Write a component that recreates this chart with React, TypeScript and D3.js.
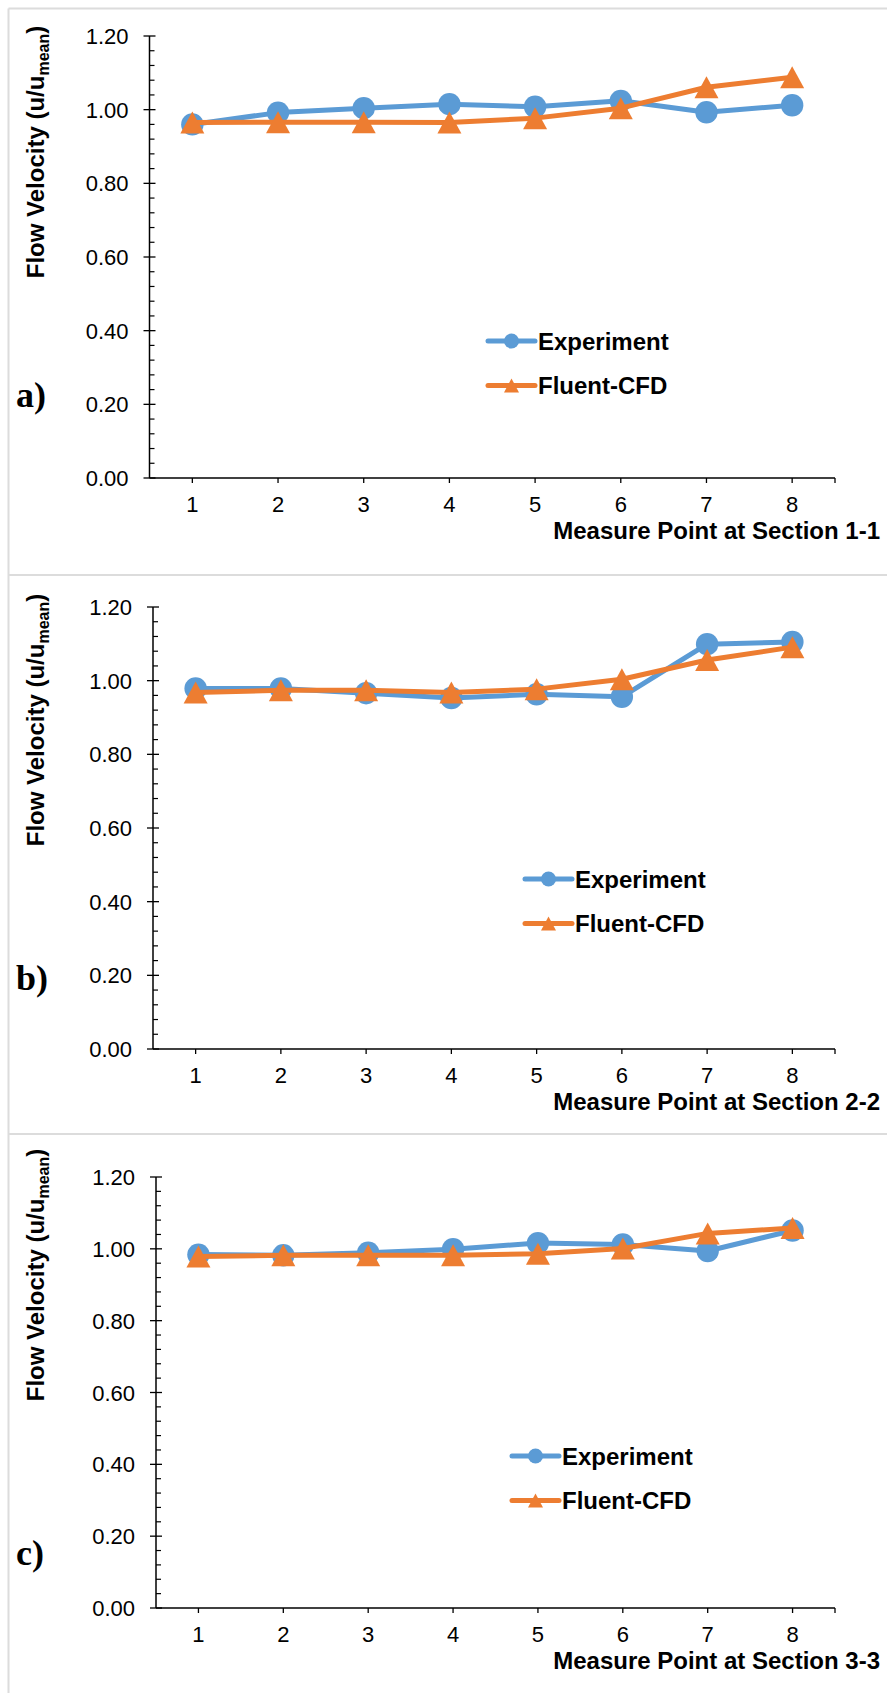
import React from 'react';
import * as d3 from 'd3';

// measure points along each section
const measurePoints = [1, 2, 3, 4, 5, 6, 7, 8];
const yTickValues = [0, 0.2, 0.4, 0.6, 0.8, 1.0, 1.2];
const sectionNames = ['1-1', '2-2', '3-3'];
const panelLetters = ['a)', 'b)', 'c)'];
const seriesNames = ['Experiment', 'Fluent-CFD'];

// u/u_mean
const experimentA = [0.960, 0.992, 1.004, 1.015, 1.008, 1.024, 0.993, 1.012];
const cfdA = [0.965, 0.966, 0.966, 0.965, 0.977, 1.004, 1.061, 1.088];

const experimentB = [0.979, 0.979, 0.966, 0.953, 0.963, 0.956, 1.099, 1.105];
const cfdB = [0.968, 0.974, 0.974, 0.968, 0.977, 1.004, 1.056, 1.091];

const experimentC = [0.984, 0.982, 0.989, 0.999, 1.016, 1.012, 0.994, 1.051];
const cfdC = [0.979, 0.982, 0.982, 0.982, 0.986, 1.001, 1.043, 1.058];

const BLUE = '#5B9BD5';
const ORANGE = '#ED7D31';
const SANS = '"Liberation Sans", Arial, sans-serif';

const W = 887;
const H = 1693;

// where each panel sits on the page
const layout = [
  { x0: 149.5, x1: 835, yBottom: 478, yTop: 36, legendX: 488, legendY: 341, titleY: 152, letterY: 407 },
  { x0: 153, x1: 835, yBottom: 1049, yTop: 607, legendX: 525, legendY: 879, titleY: 720, letterY: 990 },
  { x0: 156, x1: 835, yBottom: 1608, yTop: 1177, legendX: 512, legendY: 1456, titleY: 1275, letterY: 1565 },
];

const seriesData = [
  [experimentA, cfdA],
  [experimentB, cfdB],
  [experimentC, cfdC],
];

const triangle = (w: number, h: number) => `M0,${-h / 2}L${w / 2},${h / 2}L${-w / 2},${h / 2}Z`;

const Panel = ({ idx }: { idx: number }) => {
  const L = layout[idx];
  const [exp, cfd] = seriesData[idx];

  const x = d3.scalePoint<number>().domain(measurePoints).range([L.x0, L.x1]).padding(0.5);
  const y = d3.scaleLinear().domain([0, 1.2]).range([L.yBottom, L.yTop]);
  const minorTicks = d3.range(0, 1.2001, 0.04).filter(v => Math.abs(Math.round(v / 0.2) * 0.2 - v) > 1e-6);

  const line = d3.line<number>()
    .x((_, i) => x(measurePoints[i]) as number)
    .y(d => y(d));

  const fmt = d3.format('.2f');

  return (
    <g>
      {/* series */}
      <path d={line(exp) || ''} fill="none" stroke={BLUE} strokeWidth={5} strokeLinejoin="round" />
      {exp.map((v, i) => (
        <circle key={'e' + i} cx={x(measurePoints[i])} cy={y(v)} r={11.2} fill={BLUE} />
      ))}
      <path d={line(cfd) || ''} fill="none" stroke={ORANGE} strokeWidth={5} strokeLinejoin="round" />
      {cfd.map((v, i) => (
        <path key={'c' + i} d={triangle(24, 22)} transform={`translate(${x(measurePoints[i])},${y(v)})`} fill={ORANGE} />
      ))}

      {/* y axis */}
      <line x1={L.x0} x2={L.x0} y1={y(1.2)} y2={y(0)} stroke="#000" strokeWidth={1.5} />
      {yTickValues.map(v => (
        <g key={'yt' + v}>
          <line x1={L.x0 - 6} x2={L.x0 + 6} y1={y(v)} y2={y(v)} stroke="#000" strokeWidth={1.3} />
          <text x={L.x0 - 21} y={y(v) + 8} textAnchor="end" fontFamily={SANS} fontSize={22} fill="#000">{fmt(v)}</text>
        </g>
      ))}
      {minorTicks.map(v => (
        <line key={'ym' + v} x1={L.x0} x2={L.x0 + 5} y1={y(v)} y2={y(v)} stroke="#000" strokeWidth={1.2} />
      ))}

      {/* x axis */}
      <line x1={L.x0} x2={L.x1} y1={L.yBottom} y2={L.yBottom} stroke="#000" strokeWidth={1.5} />
      {measurePoints.map(p => (
        <g key={'xt' + p}>
          <line x1={x(p)} x2={x(p)} y1={L.yBottom} y2={L.yBottom + 5} stroke="#000" strokeWidth={1.3} />
          <text x={x(p)} y={L.yBottom + 34} textAnchor="middle" fontFamily={SANS} fontSize={22} fill="#000">{p}</text>
        </g>
      ))}
      <line x1={L.x1} x2={L.x1} y1={L.yBottom} y2={L.yBottom + 5} stroke="#000" strokeWidth={1.3} />

      <text x={880} y={L.yBottom + 61} textAnchor="end" fontFamily={SANS} fontWeight="bold" fontSize={24} fill="#000">
        {`Measure Point at Section ${sectionNames[idx]}`}
      </text>

      <text transform={`translate(44,${L.titleY}) rotate(-90)`} textAnchor="middle" fontFamily={SANS} fontWeight="bold" fontSize={24} fill="#000">
        Flow Velocity (u/u<tspan fontSize={16} dy={5}>mean</tspan><tspan dy={-5}>)</tspan>
      </text>

      <text x={16} y={L.letterY} fontFamily='"Liberation Serif", "Times New Roman", serif' fontWeight="bold" fontSize={36} fill="#000">
        {panelLetters[idx]}
      </text>

      {/* legend */}
      {seriesNames.map((name, i) => {
        const ly = L.legendY + i * 44.5;
        const col = i === 0 ? BLUE : ORANGE;
        const cx = L.legendX + 23.5;
        return (
          <g key={name}>
            <line x1={L.legendX} x2={L.legendX + 47} y1={ly} y2={ly} stroke={col} strokeWidth={5} strokeLinecap="round" />
            {i === 0
              ? <circle cx={cx} cy={ly} r={7.5} fill={col} />
              : <path d={triangle(15, 14)} transform={`translate(${cx},${ly})`} fill={col} />}
            <text x={L.legendX + 50} y={ly + 8.5} fontFamily={SANS} fontWeight="bold" fontSize={24} fill="#000">{name}</text>
          </g>
        );
      })}
    </g>
  );
};

export default function App() {
  return (
    <svg width={W} height={H} style={{ position: 'absolute', left: 0, top: 0, background: '#fff' }}>
      <rect width={W} height={H} fill="#fff" />
      {/* panel frames */}
      <line x1={8.5} x2={W} y1={8.5} y2={8.5} stroke="#dcdcdc" strokeWidth={2} />
      <line x1={8.5} x2={W} y1={575} y2={575} stroke="#dcdcdc" strokeWidth={2} />
      <line x1={8.5} x2={W} y1={1134} y2={1134} stroke="#dcdcdc" strokeWidth={2} />
      <line x1={8.5} x2={8.5} y1={8.5} y2={H} stroke="#dcdcdc" strokeWidth={2} />
      {layout.map((_, i) => <Panel key={i} idx={i} />)}
    </svg>
  );
}
